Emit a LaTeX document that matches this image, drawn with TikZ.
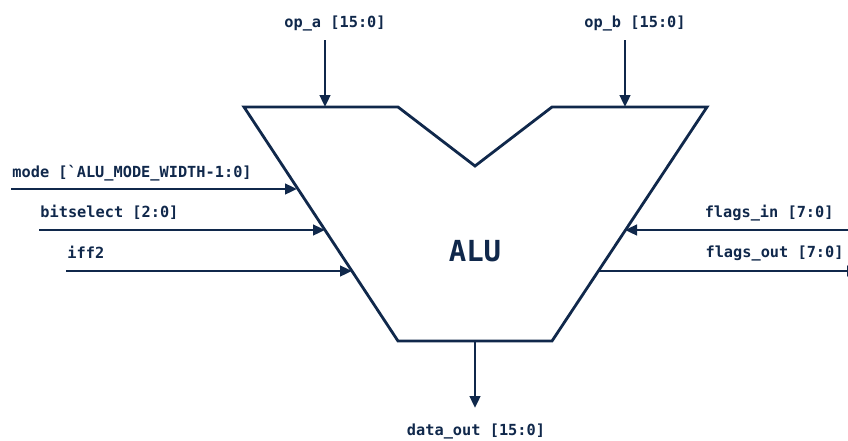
\documentclass[tikz,border=0pt]{standalone}
\usepackage{fontspec}
\setmonofont{DejaVu Sans Mono}
\usetikzlibrary{arrows.meta}
\definecolor{navy}{HTML}{10284B}

\begin{document}
\begin{tikzpicture}[
  x=0.02cm, y=-0.02cm,
  color=navy, line width=1.6pt,
  sig/.style={-{Triangle[length=2.4mm,width=2.1mm]}},
  lbl/.style={inner sep=0pt, font=\ttfamily\bfseries\fontsize{8.7}{10}\selectfont}
]
\useasboundingbox (0,0) rectangle (848,440);

% ALU outline with the notch on top
\coordinate (tl) at (244,107);
\coordinate (nl) at (398,107);
\coordinate (nv) at (475,166);
\coordinate (nr) at (552,107);
\coordinate (tr) at (707,107);
\coordinate (br) at (552,341);
\coordinate (bl) at (398,341);
\draw[line join=miter] (tl) -- (nl) -- (nv) -- (nr) -- (tr) -- (br) -- (bl) -- cycle;
\node[inner sep=0pt] (alu) at (475,251) {\ttfamily\bfseries\fontsize{16.5}{18}\selectfont ALU};

% operands
\node[lbl, anchor=base] (opa) at (335,27) {op\_a [15:0]};
\node[lbl, anchor=base] (opb) at (635,27) {op\_b [15:0]};
\coordinate (opa s) at (325,40);
\coordinate (opa e) at (325,107);
\coordinate (opb s) at (625,40);
\coordinate (opb e) at (625,107);
\draw[sig] (opa s) -- (opa e);
\draw[sig] (opb s) -- (opb e);

% control inputs on the left
\node[lbl, anchor=base west] (mode) at (11,177) {mode [\textasciigrave ALU\_MODE\_WIDTH-1:0]};
\node[lbl, anchor=base west] (bitsel) at (39,217) {bitselect [2:0]};
\node[lbl, anchor=base west] (iff) at (66,258) {iff2};
\coordinate (mode s) at (11,189);
\coordinate (mode e) at (297,189);
\coordinate (bitsel s) at (39,230);
\coordinate (bitsel e) at (325,230);
\coordinate (iff s) at (66,271);
\coordinate (iff e) at (352,271);
\draw[sig] (mode s) -- (mode e);
\draw[sig] (bitsel s) -- (bitsel e);
\draw[sig] (iff s) -- (iff e);

% flags on the right
\node[lbl, anchor=base east] (fin) at (835,217) {flags\_in [7:0]};
\node[lbl, anchor=base east] (fout) at (845,257) {flags\_out [7:0]};
\coordinate (fin s) at (850,230);
\coordinate (fin e) at (625,230);
\coordinate (fout s) at (599,271);
\coordinate (fout e) at (859,271);
\draw[sig] (fin s) -- (fin e);
\draw[sig] (fout s) -- (fout e);

% result
\coordinate (dout s) at (475,341);
\coordinate (dout e) at (475,408);
\draw[sig] (dout s) -- (dout e);
\node[lbl, anchor=base] (dout) at (476,435) {data\_out [15:0]};
\end{tikzpicture}
\end{document}
